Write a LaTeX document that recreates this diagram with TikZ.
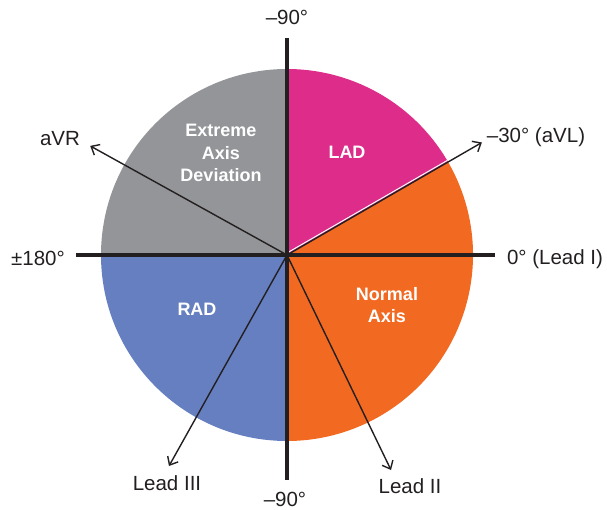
\documentclass[tikz,border=0pt]{standalone}
\usepackage{fontspec}
\setmainfont{Liberation Sans}
\usetikzlibrary{arrows.meta}
\definecolor{lad}{HTML}{DD2C8A}
\definecolor{nrm}{HTML}{F26A22}
\definecolor{rad}{HTML}{657FC1}
\definecolor{ext}{HTML}{939598}
\definecolor{ink}{HTML}{231F20}
\begin{document}
\begin{tikzpicture}[x=1pt,y=1pt,
  lbl/.style={text=ink,font=\fontsize{20.5}{24}\selectfont,inner sep=0pt},
  zone/.style={text=white,font=\fontsize{18}{22.5}\selectfont\bfseries,align=center,inner sep=0pt},
  axisline/.style={draw=ink,line width=4.5pt},
  lead/.style={draw=ink,line width=1.4pt,-{Straight Barb[length=7pt,width=12pt,line width=1.4pt]}}]
\useasboundingbox (-287,-254) rectangle (320,255);
\coordinate (O) at (0,0);
% sectors
\fill[lad] (O) -- (90:186) arc[start angle=90,end angle=30,radius=186] -- cycle;
\fill[nrm] (O) -- (30:186) arc[start angle=30,end angle=-90,radius=186] -- cycle;
\fill[rad] (O) -- (-90:186) arc[start angle=-90,end angle=-180,radius=186] -- cycle;
\fill[ext] (O) -- (180:186) arc[start angle=180,end angle=90,radius=186] -- cycle;
\draw[white,line width=1pt] ([shift={(-0.9,1.5)}]O) -- ([shift={(-0.9,1.5)}]30:186);
% axis ends
\coordinate (top) at (0,217);
\coordinate (bot) at (0,-225);
\coordinate (lft) at (-211,0);
\coordinate (rgt) at (208,0);
\draw[axisline] (top) -- (bot);
\draw[axisline] (lft) -- (rgt);
% lead tips
\coordinate (avr) at (151:225);
\coordinate (avl) at (30:225);
\coordinate (l2) at (104,-215);
\coordinate (l3) at (-118,-211);
\draw[lead] (O) -- (avr);
\draw[lead] (O) -- (avl);
\draw[lead] (O) -- (l2);
\draw[lead] (O) -- (l3);
% zone labels
\node[zone] (zext) at (-66,102) {Extreme\\Axis\\Deviation};
\node[zone] (zlad) at (60,103) {LAD};
\node[zone] (zrad) at (-90,-54) {RAD};
\node[zone] (znrm) at (100,-50) {Normal\\Axis};
% outer labels
\node[lbl] (ttop) at (0,238) {–90°};
\node[lbl] (tbot) at (-2,-244) {–90°};
\node[lbl] (tlft) at (-249,-3) {±180°};
\node[lbl] (trgt) at (268,-4) {0° (Lead I)};
\node[lbl] (tavl) at (249,118) {–30° (aVL)};
\node[lbl] (tavr) at (-227,116) {aVR};
\node[lbl] (tl3) at (-120,-228) {Lead III};
\node[lbl] (tl2) at (123,-231) {Lead II};
\end{tikzpicture}
\end{document}
